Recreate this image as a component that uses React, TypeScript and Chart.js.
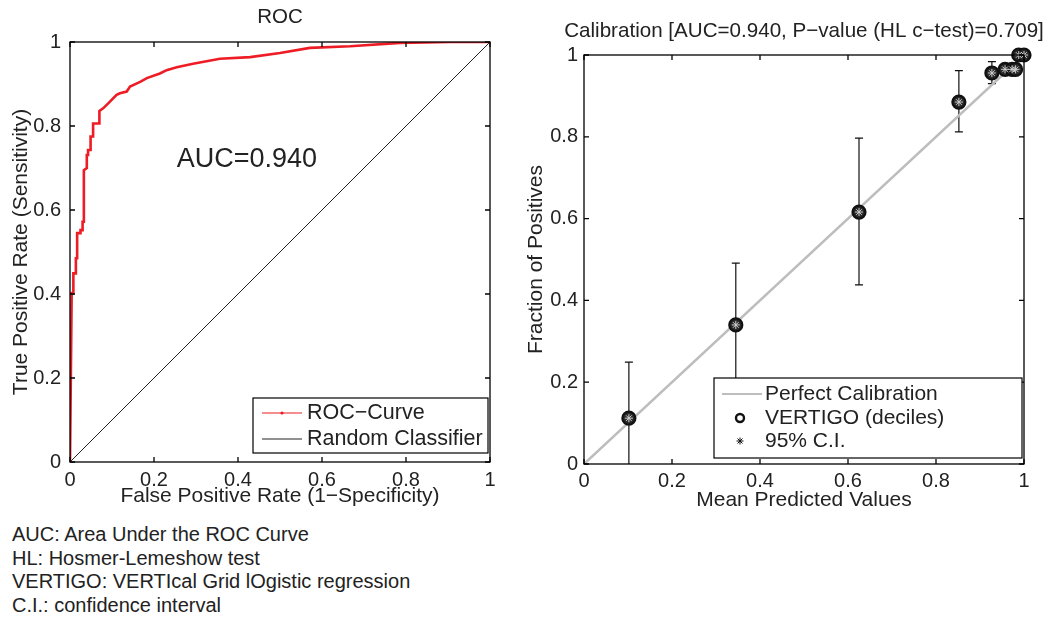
import React, { useEffect, useRef } from 'react';
import { Chart, registerables } from 'chart.js';
Chart.register(...registerables);

const FONT = "'Liberation Sans', Arial, Helvetica, sans-serif";
const TEXT = '#222';

// shared axis ticks
const axisTicks = [0, 0.2, 0.4, 0.6, 0.8, 1];
const tickLabels = ['0', '0.2', '0.4', '0.6', '0.8', '1'];

// ROC curve (false positive rate, true positive rate)
const rocFpr = [0, 0.004, 0.008, 0.008, 0.014, 0.014, 0.017, 0.017, 0.025, 0.025, 0.03, 0.03, 0.033, 0.033, 0.04, 0.04, 0.043, 0.043, 0.049, 0.049, 0.055, 0.055, 0.07, 0.07, 0.079, 0.091, 0.111, 0.119, 0.135, 0.143, 0.167, 0.183, 0.214, 0.23, 0.254, 0.293, 0.357, 0.429, 0.5, 0.571, 0.667, 0.786, 0.905, 1];
const rocTpr = [0, 0.402, 0.402, 0.449, 0.449, 0.485, 0.485, 0.545, 0.545, 0.552, 0.552, 0.572, 0.572, 0.695, 0.7, 0.731, 0.731, 0.743, 0.743, 0.775, 0.775, 0.806, 0.806, 0.836, 0.842, 0.854, 0.874, 0.878, 0.882, 0.894, 0.905, 0.914, 0.925, 0.933, 0.94, 0.948, 0.96, 0.964, 0.974, 0.986, 0.99, 0.998, 1, 1];
const randomX = [0, 1];
const randomY = [0, 1];
const aucText = 'AUC=0.940';

// Calibration (deciles)
const calPred = [0.102, 0.345, 0.625, 0.852, 0.927, 0.957, 0.973, 0.981, 0.988, 1.0];
const calObs = [0.112, 0.34, 0.616, 0.885, 0.956, 0.965, 0.965, 0.965, 1.0, 1.0];
const ciLow: (number | null)[] = [0, 0.19, 0.438, 0.812, 0.93, null, null, null, null, null];
const ciHigh: (number | null)[] = [0.249, 0.491, 0.797, 0.962, 0.984, null, null, null, null, null];
const perfectX = [0, 1];
const perfectY = [0, 1];

const footnotes = [
  'AUC: Area Under the ROC Curve',
  'HL: Hosmer-Lemeshow test',
  'VERTIGO: VERTIcal Grid lOgistic regression',
  'C.I.: confidence interval',
];

const fmtTick = (v: any) => {
  const i = axisTicks.findIndex((t) => Math.abs(t - Number(v)) < 1e-6);
  return i >= 0 ? tickLabels[i] : '';
};

const framePlugin = {
  id: 'frame',
  afterDatasetsDraw(chart: any) {
    const { ctx, chartArea: a, scales } = chart;
    ctx.save();
    ctx.strokeStyle = '#000';
    ctx.lineWidth = 1.3;
    ctx.strokeRect(a.left, a.top, a.right - a.left, a.bottom - a.top);
    const L = 5;
    ctx.beginPath();
    axisTicks.forEach((t) => {
      const x = scales.x.getPixelForValue(t);
      const y = scales.y.getPixelForValue(t);
      ctx.moveTo(x, a.bottom); ctx.lineTo(x, a.bottom - L);
      ctx.moveTo(x, a.top); ctx.lineTo(x, a.top + L);
      ctx.moveTo(a.left, y); ctx.lineTo(a.left + L, y);
      ctx.moveTo(a.right, y); ctx.lineTo(a.right - L, y);
    });
    ctx.stroke();
    ctx.restore();
  },
};

const makeScale = (title: string, opts: any) => ({
  type: 'linear',
  min: 0,
  max: 1,
  grid: { display: false, drawTicks: false },
  border: { display: false },
  ticks: {
    stepSize: 0.2,
    callback: fmtTick,
    color: TEXT,
    font: { family: FONT, size: 20 },
    padding: opts.tickPad,
    autoSkip: false,
    maxRotation: 0,
  },
  title: {
    display: true,
    text: title,
    color: TEXT,
    font: { family: FONT, size: 21 },
    padding: opts.titlePad,
  },
  afterFit: opts.afterFit,
});

export default function App() {
  const leftRef = useRef<HTMLCanvasElement>(null);
  const rightRef = useRef<HTMLCanvasElement>(null);

  useEffect(() => {
    const rocData = rocFpr.map((x, i) => ({ x, y: rocTpr[i] }));
    const randData = randomX.map((x, i) => ({ x, y: randomY[i] }));

    const leftPlugin = {
      id: 'leftDecor',
      afterDraw(chart: any) {
        const { ctx, chartArea: a, scales } = chart;
        ctx.save();
        ctx.fillStyle = TEXT;
        ctx.textAlign = 'center';
        ctx.textBaseline = 'middle';
        ctx.font = `20.5px ${FONT}`;
        ctx.fillText('ROC', (a.left + a.right) / 2, 17);
        ctx.font = `27px ${FONT}`;
        ctx.fillText(aucText, scales.x.getPixelForValue(0.421), scales.y.getPixelForValue(0.719));
        // legend
        const bx = a.right - 237, by = a.bottom - 64, bw = 235, bh = 55;
        ctx.fillStyle = '#fff';
        ctx.fillRect(bx, by, bw, bh);
        ctx.strokeStyle = '#000';
        ctx.lineWidth = 1.2;
        ctx.strokeRect(bx, by, bw, bh);
        const r1 = by + 15, r2 = by + 41;
        ctx.strokeStyle = '#ee1c25';
        ctx.lineWidth = 1.2;
        ctx.beginPath(); ctx.moveTo(bx + 9, r1); ctx.lineTo(bx + 49, r1); ctx.stroke();
        ctx.fillStyle = '#ee1c25';
        ctx.beginPath(); ctx.arc(bx + 29, r1, 1.6, 0, Math.PI * 2); ctx.fill();
        ctx.strokeStyle = '#222';
        ctx.lineWidth = 1;
        ctx.beginPath(); ctx.moveTo(bx + 9, r2); ctx.lineTo(bx + 49, r2); ctx.stroke();
        ctx.fillStyle = TEXT;
        ctx.textAlign = 'left';
        ctx.font = `21.5px ${FONT}`;
        ctx.fillText('ROC\u2212Curve', bx + 54, r1);
        ctx.fillText('Random Classifier', bx + 54, r2);
        ctx.restore();
      },
    };

    const left = new Chart(leftRef.current!, {
      type: 'scatter',
      data: {
        datasets: [
          { label: 'ROC\u2212Curve', data: rocData, showLine: true, borderColor: '#ee1c25', borderWidth: 2.6, pointRadius: 0, order: 0 },
          { label: 'Random Classifier', data: randData, showLine: true, borderColor: '#222', borderWidth: 1, pointRadius: 0, order: 1 },
        ],
      },
      options: {
        responsive: false,
        animation: false,
        layout: { padding: { left: 0, top: 42, right: 35, bottom: 0 } },
        plugins: { legend: { display: false }, tooltip: { enabled: false }, title: { display: false } },
        scales: {
          x: makeScale('False Positive Rate (1\u2212Specificity)', {
            tickPad: 6, titlePad: { top: 0, bottom: 6 },
            afterFit: (s: any) => { s.height = 53; },
          }),
          y: makeScale('True Positive Rate (Sensitivity)', {
            tickPad: 9, titlePad: { top: 9, bottom: 0 },
            afterFit: (s: any) => { s.width = 70; },
          }),
        },
      } as any,
      plugins: [framePlugin, leftPlugin],
    });

    const calData = calPred.map((x, i) => ({ x, y: calObs[i] }));
    const perfData = perfectX.map((x, i) => ({ x, y: perfectY[i] }));

    const errPlugin = {
      id: 'errbars',
      beforeDatasetsDraw(chart: any) {
        const { ctx, scales } = chart;
        ctx.save();
        ctx.strokeStyle = '#111';
        ctx.lineWidth = 1.2;
        ctx.beginPath();
        calPred.forEach((p, i) => {
          const lo = ciLow[i], hi = ciHigh[i];
          if (lo == null || hi == null) return;
          const x = scales.x.getPixelForValue(p);
          const y1 = scales.y.getPixelForValue(lo);
          const y2 = scales.y.getPixelForValue(hi);
          ctx.moveTo(x, y1); ctx.lineTo(x, y2);
          ctx.moveTo(x - 4, y2); ctx.lineTo(x + 4, y2);
          if (lo > 0) { ctx.moveTo(x - 4, y1); ctx.lineTo(x + 4, y1); }
        });
        ctx.stroke();
        ctx.restore();
      },
    };

    const rightPlugin = {
      id: 'rightDecor',
      afterDraw(chart: any) {
        const { ctx, chartArea: a } = chart;
        ctx.save();
        ctx.fillStyle = TEXT;
        ctx.textAlign = 'center';
        ctx.textBaseline = 'middle';
        ctx.font = `20.6px ${FONT}`;
        ctx.fillText('Calibration [AUC=0.940, P\u2212value (HL c\u2212test)=0.709]', (a.left + a.right) / 2, 31);
        // legend
        const bx = a.right - 310, by = a.bottom - 86, bw = 308, bh = 80;
        ctx.fillStyle = '#fff';
        ctx.fillRect(bx, by, bw, bh);
        ctx.strokeStyle = '#000';
        ctx.lineWidth = 1.2;
        ctx.strokeRect(bx, by, bw, bh);
        const r1 = by + 16, r2 = by + 40, r3 = by + 63;
        const sx = bx + 26;
        ctx.strokeStyle = '#bdbdbd';
        ctx.lineWidth = 2.2;
        ctx.beginPath(); ctx.moveTo(bx + 8, r1); ctx.lineTo(bx + 48, r1); ctx.stroke();
        ctx.strokeStyle = '#111';
        ctx.lineWidth = 2.4;
        ctx.beginPath(); ctx.arc(sx, r2, 4, 0, Math.PI * 2); ctx.stroke();
        ctx.lineWidth = 1;
        ctx.beginPath();
        for (let k = 0; k < 4; k++) {
          const ang = (k * Math.PI) / 4;
          ctx.moveTo(sx - 3.5 * Math.cos(ang), r3 - 3.5 * Math.sin(ang));
          ctx.lineTo(sx + 3.5 * Math.cos(ang), r3 + 3.5 * Math.sin(ang));
        }
        ctx.stroke();
        ctx.fillStyle = TEXT;
        ctx.textAlign = 'left';
        ctx.font = `21px ${FONT}`;
        ctx.fillText('Perfect Calibration', bx + 51, r1);
        ctx.fillText('VERTIGO (deciles)', bx + 51, r2);
        ctx.fillText('95% C.I.', bx + 51, r3);
        ctx.restore();
      },
    };

    const right = new Chart(rightRef.current!, {
      type: 'scatter',
      data: {
        datasets: [
          { label: '95% C.I.', data: calData, showLine: false, pointStyle: 'star', pointRadius: 4, borderColor: '#d0d0d0', backgroundColor: '#d0d0d0', borderWidth: 1, clip: false, order: 0 },
          { label: 'VERTIGO (deciles)', data: calData, showLine: false, pointStyle: 'circle', pointRadius: 6.5, borderColor: '#111', backgroundColor: '#2a2a2a', borderWidth: 2.2, clip: false, order: 1 },
          { label: 'Perfect Calibration', data: perfData, showLine: true, borderColor: '#bdbdbd', borderWidth: 2.5, pointRadius: 0, order: 2 },
        ],
      },
      options: {
        responsive: false,
        animation: false,
        layout: { padding: { left: 0, top: 55, right: 27, bottom: 0 } },
        plugins: { legend: { display: false }, tooltip: { enabled: false }, title: { display: false } },
        scales: {
          x: makeScale('Mean Predicted Values', {
            tickPad: 5, titlePad: { top: 0, bottom: 2 },
            afterFit: (s: any) => { s.height = 51; },
          }),
          y: makeScale('Fraction of Positives', {
            tickPad: 6, titlePad: { top: 4, bottom: 0 },
            afterFit: (s: any) => { s.width = 64; },
          }),
        },
      } as any,
      plugins: [framePlugin, errPlugin, rightPlugin],
    });

    return () => {
      left.destroy();
      right.destroy();
    };
  }, []);

  return (
    <div style={{ position: 'absolute', left: 0, top: 0, width: 1051, height: 621, background: '#fff', overflow: 'hidden' }}>
      <canvas ref={leftRef} width={525} height={515} style={{ position: 'absolute', left: 0, top: 0, width: 525, height: 515 }} />
      <canvas ref={rightRef} width={531} height={515} style={{ position: 'absolute', left: 520, top: 0, width: 531, height: 515 }} />
      <div style={{ position: 'absolute', left: 12, top: 523, fontFamily: FONT, fontSize: 20, lineHeight: '23.7px', color: TEXT, whiteSpace: 'nowrap' }}>
        {footnotes.map((t) => (
          <div key={t}>{t}</div>
        ))}
      </div>
    </div>
  );
}
